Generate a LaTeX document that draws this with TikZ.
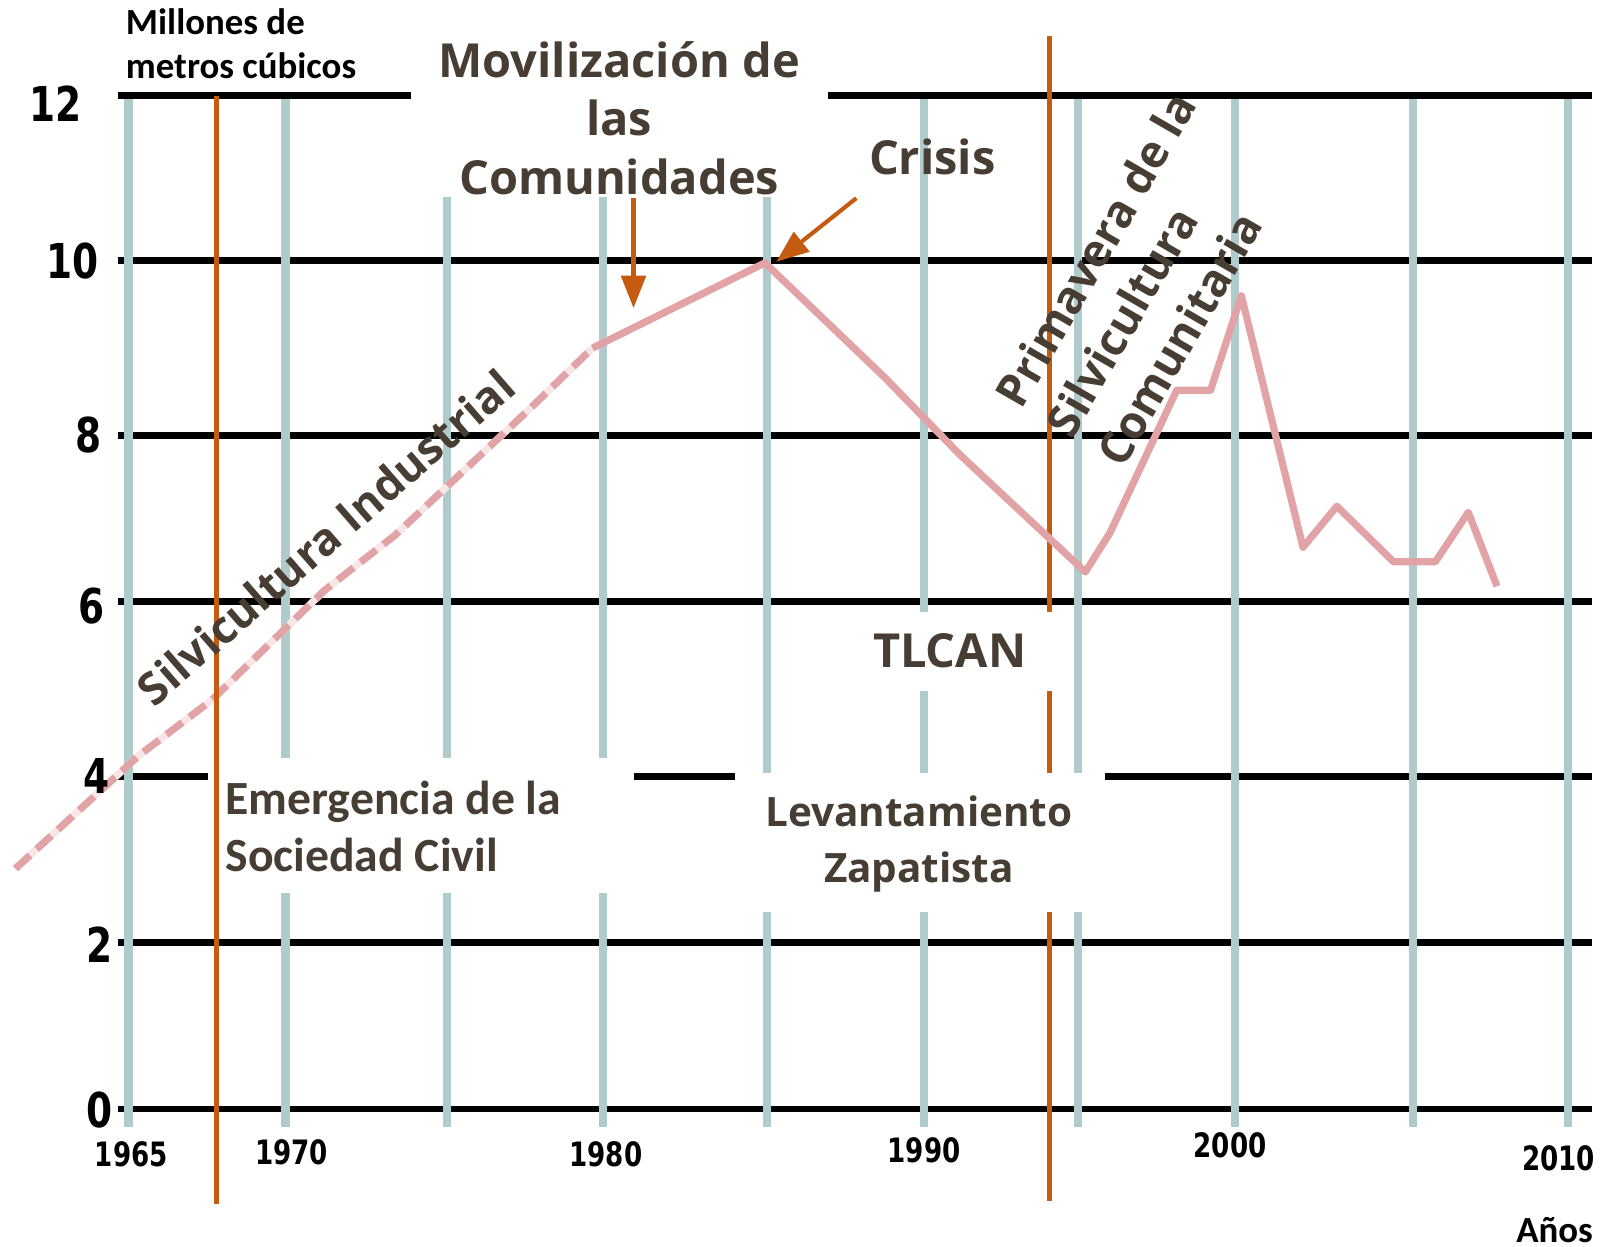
\documentclass[tikz,border=0pt]{standalone}
\usepackage{fontspec}
\setmainfont{Open Sans}
\newfontfamily\carlito{Carlito}
\newfontfamily\dejavu{DejaVu Sans}
\usetikzlibrary{arrows.meta}
\usetikzlibrary{calc,positioning}
\definecolor{naranja}{RGB}{197,90,17}
\definecolor{gristeal}{RGB}{176,203,204}
\definecolor{rosa}{RGB}{226,163,166}
\definecolor{rosaclaro}{RGB}{248,230,230}
\definecolor{cafe}{RGB}{71,61,51}
% cifras angostas de los ejes
\newcommand{\cifra}[1]{\scalebox{0.78}[1]{#1}}
\tikzset{
    %Flecha estandar
    >={Triangle[length=9pt,width=6.8pt]},
    % Lineas horizontales
    rejilla/.style={black, line width=1.85pt},
    % Columnas de los anios
    columna/.style={gristeal, line width=2.3pt},
    % Lineas de los hitos
    hito/.style={naranja, line width=1.3pt},
    % Serie de datos
    serie/.style={rosa, line width=2pt, line join=round},
    serieDisc/.style={rosa, line width=2pt,
           dash pattern=on 5.5pt off 2.5pt},
    % Flechas
    flecha/.style={->, naranja, line width=1.15pt},
    % Textos
    titulo/.style={font=\bfseries\fontsize{13}{16.2}\selectfont,
           text=cafe, align=center, inner sep=0pt},
    subtitulo/.style={font=\bfseries\fontsize{11.2}{15.6}\selectfont,
           text=cafe, align=center, inner sep=0pt},
    etapa/.style={font=\carlito\bfseries\fontsize{13.2}{15.6}\selectfont,
           text=cafe, align=left, inner sep=0pt},
    unidad/.style={font=\carlito\bfseries\fontsize{10.2}{12.2}\selectfont,
           text=black, align=left, inner sep=0pt},
    eje/.style={font=\dejavu\bfseries\fontsize{13.3}{14}\selectfont,
           anchor=east, inner sep=0pt},
    anio/.style={font=\dejavu\bfseries\fontsize{9.3}{10}\selectfont,
           inner sep=0pt},
}
\begin{document}
\begin{tikzpicture}[x=0.01cm,y=-0.01cm]
\newcommand{\ancho}{1550}
\newcommand{\arriba}{96}
\newcommand{\abajo}{1098}
\useasboundingbox (0,0) rectangle (1568,1214);

% Lineas horizontales
\foreach \y in {93,254,424,586,756,918,1080}
    \draw[rejilla] (115,\y) -- (\ancho,\y);

% Columnas por anio
\foreach \x in {125,278,435,587,747,900,1050,1203,1376,1527}
    \draw[columna] (\x,\arriba) -- (\x,\abajo);

% Hito 1994
\draw[hito] (1022,35) -- (1022,1170);

% Produccion
\draw[rosaclaro, line width=2pt] (15,846) -- (135,736) -- (206,682)
    -- (316,575) -- (385,521) -- (514,400) -- (577,339);
\draw[serieDisc] (15,846) -- (135,736) -- (206,682) -- (316,575)
    -- (385,521) -- (514,400) -- (577,339);
\draw[serie] (577,339) -- (745,256) -- (862,368) -- (935,443)
    -- (1057,557) -- (1081,519) -- (1146,380) -- (1179,380)
    -- (1209,288) -- (1269,533) -- (1302,493) -- (1357,547)
    -- (1398,547) -- (1430,499) -- (1458,571);

% Fondos blancos de los textos
\fill[white] (400,0) rectangle (806,192);
\fill[white] (203,738) rectangle (617,870);
\fill[white] (716,753) rectangle (1076,888);
\fill[white] (790,596) rectangle (1027,673);

% Hito 1968
\draw[hito] (211,93) -- (211,1173);

% Ejes
\foreach \v/\x/\y in {12/80/101,10/97/254,8/100/424,6/103/590,4/107/756,2/110/920,0/110/1081}
    \node[eje] (eje-\v) at (\x,\y) {\cifra{\v}};
\foreach \a/\x/\y in {1965/128/1124,1970/284/1122,1980/590/1124,1990/900/1120,2000/1198/1115,2010/1518/1128}
    \node[anio] (anio-\a) at (\x,\y) {\cifra{\a}};
\node[unidad, anchor=west] (unidades) at (122,43) {Millones de\\metros cúbicos};
\node[unidad, anchor=east] (anios) at (1552,1198) {Años};

% Etapas
\node[titulo] (movilizacion) at (603,115) {Movilización de\\las\\Comunidades};
\node[titulo] (crisis) at (908,153) {Crisis};
\node[titulo] (tlcan) at (925,634) {TLCAN};
\node[titulo, font=\bfseries\fontsize{12.4}{16.2}\selectfont,
    rotate=41, anchor=base west] (industrial) at (150,690)
    {Silvicultura Industrial};
\node[titulo, font=\bfseries\fontsize{12.5}{16.2}\selectfont, align=left,
    rotate=60, anchor=west] (primavera) at (1030,421)
    {Primavera de la\\Silvicultura\\Comunitaria};
\node[etapa, anchor=west] (emergencia) at (219,805)
    {Emergencia de la\\Sociedad Civil};
\node[subtitulo] (levantamiento) at (895,822) {Levantamiento\\Zapatista};

% Flechas
\coordinate (colaMov) at (617,193);
\coordinate (puntaMov) at (617,300);
\coordinate (colaCrisis) at (834,193);
\coordinate (pico) at (756,255);
\draw[flecha] (colaMov) -- (puntaMov);
\draw[flecha] (colaCrisis) -- (pico);
\end{tikzpicture}
\end{document}
